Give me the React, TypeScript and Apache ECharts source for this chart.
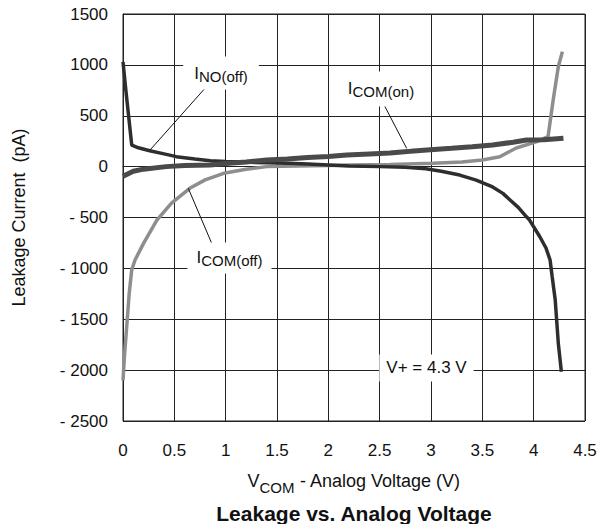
import React, { useEffect, useRef } from "react";
import * as echarts from "echarts";

// ---- data ----
const inoOffX = [0, 0.03, 0.085, 0.15, 0.26, 0.4, 0.52, 0.7, 0.85, 1.0, 1.17, 1.4, 1.6, 1.8, 2.0, 2.2, 2.5, 2.75, 2.95, 3.1, 3.28, 3.44, 3.6, 3.7, 3.77, 3.85, 3.93, 3.96, 4.06, 4.12, 4.16, 4.18, 4.21, 4.24, 4.27];
const inoOffY = [1030, 730, 212, 185, 156, 125, 98, 75, 58, 50, 45, 38, 32, 25, 15, 5, 0, -5, -20, -45, -83, -132, -200, -263, -328, -400, -493, -525, -689, -800, -918, -1080, -1311, -1737, -2016];

const icomOnX = [0, 0.1, 0.2, 0.42, 0.6, 0.85, 1.0, 1.2, 1.4, 1.6, 1.8, 2.0, 2.18, 2.4, 2.6, 2.8, 2.96, 3.2, 3.4, 3.6, 3.8, 3.93, 4.1, 4.29];
const icomOnY = [-95, -45, -25, 0, 10, 16, 30, 45, 65, 75, 90, 100, 114, 125, 135, 150, 163, 180, 195, 212, 240, 261, 265, 280];

const icomOffX = [0, 0.015, 0.036, 0.06, 0.085, 0.117, 0.2, 0.33, 0.47, 0.65, 0.8, 0.98, 1.2, 1.4, 1.7, 2.0, 2.21, 2.6, 3.02, 3.3, 3.5, 3.67, 3.83, 4.03, 4.14, 4.19, 4.24, 4.28];
const icomOffY = [-2100, -1850, -1574, -1250, -1016, -918, -754, -525, -361, -213, -130, -66, -25, 0, 5, 10, 16, 22, 32, 45, 65, 97, 183, 245, 294, 655, 982, 1130];

const xMin = 0, xMax = 4.5, xStep = 0.5;
const yMin = -2500, yMax = 1500, yStep = 500;

const FONT = '"Liberation Sans", Arial, Helvetica, sans-serif';
const zip = (xs: number[], ys: number[]) => xs.map((x, i) => [x, ys[i]]);

const subRich = (main: number, sub: number, lh: number) => ({
  i: { fontSize: main, fontFamily: FONT, color: "#111", lineHeight: lh },
  s: { fontSize: sub, fontFamily: FONT, color: "#111", verticalAlign: "bottom" },
  n: { fontSize: main, fontFamily: FONT, color: "#111", lineHeight: lh },
});

const leader = (a: number[], b: number[]) => ({
  silent: true,
  symbol: ["none", "none"],
  label: { show: false },
  lineStyle: { color: "#111", width: 1, type: "solid" },
  emphasis: { disabled: true },
  data: [[{ coord: a }, { coord: b }]],
});

const tag = (at: number[], text: string, padding: number[]) => ({
  silent: true,
  symbol: "rect",
  symbolSize: 1,
  itemStyle: { color: "rgba(0,0,0,0)" },
  label: {
    show: true,
    position: "inside",
    formatter: text,
    backgroundColor: "#fff",
    padding,
    rich: subRich(17, 15, 21),
  },
  data: [{ coord: at }],
});

export default function App() {
  const ref = useRef<HTMLDivElement>(null);
  useEffect(() => {
    document.body.style.margin = "0";
    if (!ref.current) return;
    const chart = echarts.init(ref.current, undefined, { renderer: "svg" });
    chart.setOption({
      animation: false,
      backgroundColor: "#fff",
      title: {
        text: "Leakage vs. Analog Voltage",
        left: 354,
        top: 502,
        padding: 0,
        textAlign: "center",
        textStyle: { fontFamily: FONT, fontSize: 21, fontWeight: "bold", color: "#111", lineHeight: 22 },
      },
      grid: {
        left: 123,
        right: 15,
        top: 14,
        bottom: 103,
        show: true,
        borderColor: "#222",
        borderWidth: 1,
      },
      xAxis: {
        type: "value",
        min: xMin,
        max: xMax,
        interval: xStep,
        name: "{i|V}{s|COM}{n| - Analog Voltage (V)}",
        nameLocation: "middle",
        nameGap: 46,
        nameTextStyle: { rich: subRich(18, 15, 28) },
        axisLine: { show: true, lineStyle: { color: "#222", width: 1 } },
        axisTick: { show: false },
        axisLabel: { margin: 21, fontFamily: FONT, fontSize: 17, color: "#111" },
        splitLine: { show: true, lineStyle: { color: "#222", width: 1 } },
      },
      yAxis: {
        type: "value",
        min: yMin,
        max: yMax,
        interval: yStep,
        name: "Leakage Current  (pA)",
        nameLocation: "middle",
        nameGap: 95,
        nameTextStyle: { fontFamily: FONT, fontSize: 18, color: "#111" },
        axisLine: { show: true, lineStyle: { color: "#222", width: 1 } },
        axisTick: { show: false },
        axisLabel: {
          margin: 15,
          fontFamily: FONT,
          fontSize: 17,
          color: "#111",
          formatter: (v: number) => (v < 0 ? "- " + Math.abs(v) : String(v)),
        },
        splitLine: { show: true, lineStyle: { color: "#222", width: 1 } },
      },
      series: [
        {
          type: "line",
          name: "ICOM(off)",
          data: zip(icomOffX, icomOffY),
          symbol: "none",
          lineStyle: { color: "#8e8e8e", width: 3.5 },
          z: 2,
          markLine: leader([0.636, -213], [0.864, -754]),
          markPoint: tag([1.037, -898], "{i|I}{s|COM(off)}", [5, 9, 5, 9]),
        },
        {
          type: "line",
          name: "INO(off)",
          data: zip(inoOffX, inoOffY),
          symbol: "none",
          lineStyle: { color: "#2e2e2e", width: 3.5 },
          z: 3,
          markLine: leader([0.263, 163], [0.799, 770]),
          markPoint: tag([0.955, 920], "{i|I}{s|NO(off)}", [6, 11, 6, 11]),
        },
        {
          type: "line",
          name: "ICOM(on)",
          data: zip(icomOnX, icomOnY),
          symbol: "none",
          lineStyle: { color: "#4a4a4a", width: 5 },
          z: 4,
          markLine: leader([2.535, 622], [2.763, 180]),
          markPoint: tag([2.513, 763], "{i|I}{s|COM(on)}", [7, 8, 7, 8]),
        },
        {
          type: "line",
          name: "note",
          data: [],
          symbol: "none",
          z: 5,
          markPoint: {
            silent: true,
            symbol: "rect",
            symbolSize: 1,
            itemStyle: { color: "rgba(0,0,0,0)" },
            label: {
              show: true,
              position: "inside",
              formatter: "V+ = 4.3 V",
              backgroundColor: "#fff",
              padding: [5, 7, 5, 7],
              fontFamily: FONT,
              fontSize: 17,
              color: "#111",
            },
            data: [{ coord: [2.956, -1979] }],
          },
        },
      ],
    });
    return () => chart.dispose();
  }, []);
  return <div ref={ref} style={{ width: 600, height: 524 }} />;
}
